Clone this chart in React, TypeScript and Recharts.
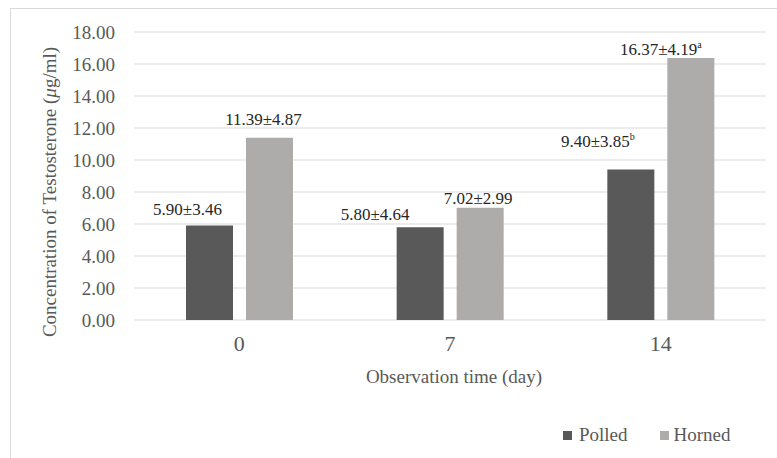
import React from 'react';
import { BarChart, Bar, XAxis, YAxis, CartesianGrid, Legend, LabelList } from 'recharts';

const days = ['0', '7', '14'];
const polledMean = [5.9, 5.8, 9.4];
const polledSd = ['3.46', '4.64', '3.85'];
const polledSup = ['', '', 'b'];
const hornedMean = [11.39, 7.02, 16.37];
const hornedSd = ['4.87', '2.99', '4.19'];
const hornedSup = ['', '', 'a'];
const yTicks = [0, 2, 4, 6, 8, 10, 12, 14, 16, 18];

// label nudges (dx from bar centre, lift above bar top)
const polledLabelPos = [
  [-22, 11],
  [-45, 7],
  [-33, 23],
];
const hornedLabelPos = [
  [-6, 13],
  [-2, 4],
  [-30, 3],
];

const POLLED = '#595959';
const HORNED = '#aeabab';
const FONT = '"Liberation Serif", "Times New Roman", serif';

const data = days.map((d, i) => ({
  day: d,
  polled: polledMean[i],
  horned: hornedMean[i],
}));

function makeLabel(means: number[], sds: string[], sups: string[], pos: number[][]) {
  return (props: any) => {
    const { x, y, width, index } = props;
    const [dx, lift] = pos[index];
    return (
      <text
        x={Number(x) + Number(width) / 2 + dx}
        y={Number(y) - lift}
        textAnchor="middle"
        fontFamily={FONT}
        fontSize={17}
        fill="#262626"
      >
        {means[index].toFixed(2)}±{sds[index]}
        {sups[index] && (
          <tspan fontSize={10} dy={-7}>
            {sups[index]}
          </tspan>
        )}
      </text>
    );
  };
}

function LegendBox() {
  const items = [
    { name: 'Polled', color: POLLED },
    { name: 'Horned', color: HORNED },
  ];
  return (
    <div style={{ display: 'flex', height: 20, alignItems: 'center', fontFamily: FONT, fontSize: 19, color: '#595959' }}>
      {items.map((it, i) => (
        <div key={it.name} style={{ display: 'flex', alignItems: 'center', marginRight: i === 0 ? 32 : 0 }}>
          <span style={{ width: 9, height: 9, background: it.color, display: 'inline-block', marginRight: i === 0 ? 7 : 5 }} />
          <span>{it.name}</span>
        </div>
      ))}
    </div>
  );
}

export default function App() {
  return (
    <div
      style={{
        position: 'absolute',
        left: 10,
        top: 8,
        width: 767,
        height: 450,
        boxSizing: 'border-box',
        borderTop: '1px solid #d9d9d9',
        borderLeft: '1px solid #d9d9d9',
      }}
    >
      <BarChart
        width={766}
        height={449}
        data={data}
        margin={{ top: 23, right: 11, left: 0, bottom: 0 }}
        barSize={47}
        barGap={13}
      >
        <CartesianGrid horizontal vertical={false} stroke="#d9d9d9" />
        <XAxis
          dataKey="day"
          axisLine={false}
          tickLine={false}
          height={118}
          tickMargin={9}
          tick={{ fill: '#595959', fontSize: 22, fontFamily: FONT }}
          label={{
            content: (p: any) => {
              const vb = p.viewBox;
              return (
                <text
                  x={vb.x + vb.width / 2 + 4}
                  y={vb.y + 63}
                  textAnchor="middle"
                  fontFamily={FONT}
                  fontSize={19}
                  fill="#595959"
                >
                  Observation time (day)
                </text>
              );
            },
          }}
        />
        <YAxis
          domain={[0, 18]}
          ticks={yTicks}
          interval={0}
          width={123}
          axisLine={false}
          tickLine={false}
          tickMargin={13}
          tickFormatter={(v: number) => v.toFixed(2)}
          tick={{ fill: '#595959', fontSize: 19, fontFamily: FONT }}
          label={{
            content: (p: any) => {
              const vb = p.viewBox;
              const cx = vb.x + 45;
              const cy = vb.y + vb.height / 2 + 16;
              return (
                <text
                  x={cx}
                  y={cy}
                  transform={`rotate(-90 ${cx} ${cy})`}
                  textAnchor="middle"
                  fontFamily={FONT}
                  fontSize={19}
                  fill="#595959"
                >
                  Concentration of Testosterone (<tspan fontStyle="italic">μ</tspan>g/ml)
                </text>
              );
            },
          }}
        />
        <Legend
          content={<LegendBox />}
          verticalAlign="bottom"
          wrapperStyle={{ top: 416, left: 552, width: 'auto', bottom: 'auto' }}
        />
        <Bar dataKey="polled" name="Polled" fill={POLLED} isAnimationActive={false}>
          <LabelList dataKey="polled" content={makeLabel(polledMean, polledSd, polledSup, polledLabelPos)} />
        </Bar>
        <Bar dataKey="horned" name="Horned" fill={HORNED} isAnimationActive={false}>
          <LabelList dataKey="horned" content={makeLabel(hornedMean, hornedSd, hornedSup, hornedLabelPos)} />
        </Bar>
      </BarChart>
    </div>
  );
}
